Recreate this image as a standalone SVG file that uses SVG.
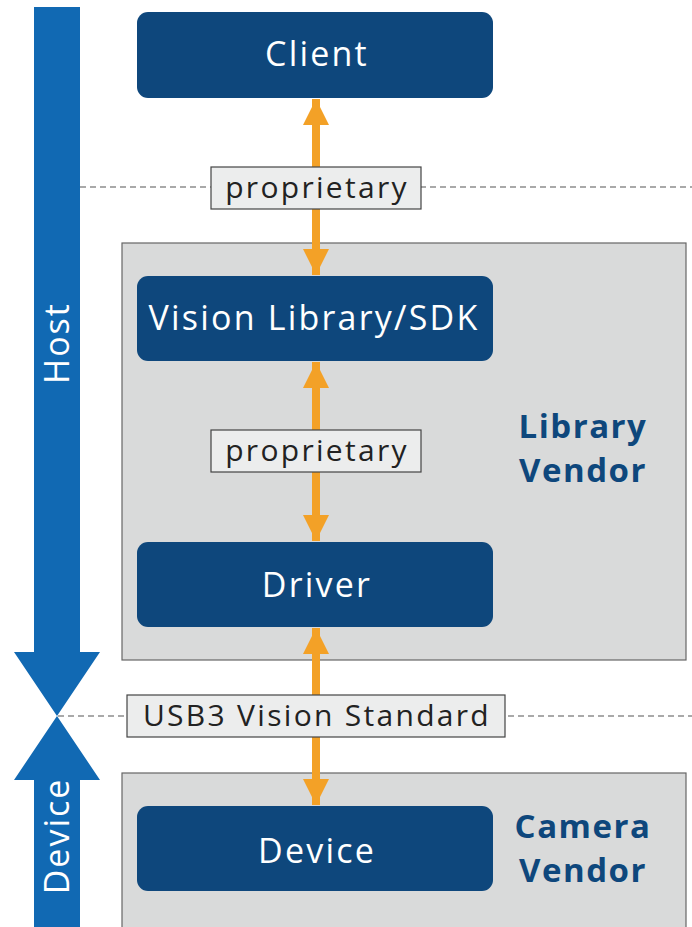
<svg xmlns="http://www.w3.org/2000/svg" width="692" height="927" viewBox="0 0 692 927">
<defs>
<style>
.node{fill:#0e477c}
.ntext{fill:#fff;font-family:"Open Sans",sans-serif;font-size:34px;letter-spacing:2.2px;text-anchor:middle}
.vendor{fill:#d9dada;stroke:#666;stroke-width:1.2}
.vtext{fill:#0e477c;font-family:"Open Sans",sans-serif;font-weight:bold;font-size:33px;letter-spacing:1.5px;text-anchor:middle}
.lbl{fill:#eceded;stroke:#444;stroke-width:1.2}
.ltext{fill:#222;font-family:"Open Sans",sans-serif;font-size:30px;letter-spacing:2.3px;text-anchor:middle}
.dash{stroke:#555;stroke-width:1.2;stroke-dasharray:6 4;fill:none}
.conn{stroke:#f3a127;stroke-width:8;fill:none}
.blue{fill:#1169b3}
.btext{fill:#fff;font-family:"Open Sans",sans-serif;font-size:34px;letter-spacing:2px;text-anchor:middle}
</style>
<marker id="ah" viewBox="0 0 26 26" refX="26" refY="13" markerWidth="26" markerHeight="26" markerUnits="userSpaceOnUse" orient="auto-start-reverse">
<path d="M0,0 L26,13 L0,26 Z" fill="#f3a127"/>
</marker>
</defs>
<g id="vendor-areas">
<rect id="library-vendor" class="vendor" x="122" y="243" width="564" height="417"/>
<rect id="camera-vendor" class="vendor" x="122" y="773" width="564" height="160"/>
<text class="vtext" x="583" y="438">Library</text>
<text class="vtext" x="583" y="482">Vendor</text>
<text class="vtext" x="583" y="838">Camera</text>
<text class="vtext" x="583" y="882">Vendor</text>
</g>
<g id="dashes">
<line class="dash" x1="80" y1="187" x2="692" y2="187"/>
<line class="dash" x1="58" y1="716" x2="692" y2="716"/>
</g>
<g id="side-arrows">
<path class="blue" d="M34,7 H80 V652 H100 L57,716 L14,652 H34 Z"/>
<path class="blue" d="M57,716 L100,780 H80 V927 H34 V780 H14 Z"/>
<text class="btext" transform="translate(69,343) rotate(-90)">Host</text>
<text class="btext" transform="translate(69,836) rotate(-90)">Device</text>
</g>
<g id="connectors">
<line class="conn" x1="316" y1="99" x2="316" y2="275" marker-start="url(#ah)" marker-end="url(#ah)"/>
<line class="conn" x1="316" y1="362" x2="316" y2="541" marker-start="url(#ah)" marker-end="url(#ah)"/>
<line class="conn" x1="316" y1="628" x2="316" y2="805" marker-start="url(#ah)" marker-end="url(#ah)"/>
</g>
<g id="labels">
<rect class="lbl" x="211" y="167" width="210" height="42"/>
<text class="ltext" x="317" y="198">proprietary</text>
<rect class="lbl" x="211" y="430" width="210" height="42"/>
<text class="ltext" x="317" y="461">proprietary</text>
<rect class="lbl" x="127" y="695" width="378" height="42"/>
<text class="ltext" x="317" y="726">USB3 Vision Standard</text>
</g>
<g id="client"><rect class="node" x="137" y="12" width="356" height="86" rx="11"/><text class="ntext" x="317" y="66">Client</text></g>
<g id="vision-library"><rect class="node" x="137" y="276" width="356" height="85" rx="11"/><text class="ntext" x="314" y="330">Vision Library/SDK</text></g>
<g id="driver"><rect class="node" x="137" y="542" width="356" height="85" rx="11"/><text class="ntext" x="317" y="597">Driver</text></g>
<g id="device"><rect class="node" x="137" y="806" width="356" height="85" rx="11"/><text class="ntext" x="317" y="863">Device</text></g>
</svg>
